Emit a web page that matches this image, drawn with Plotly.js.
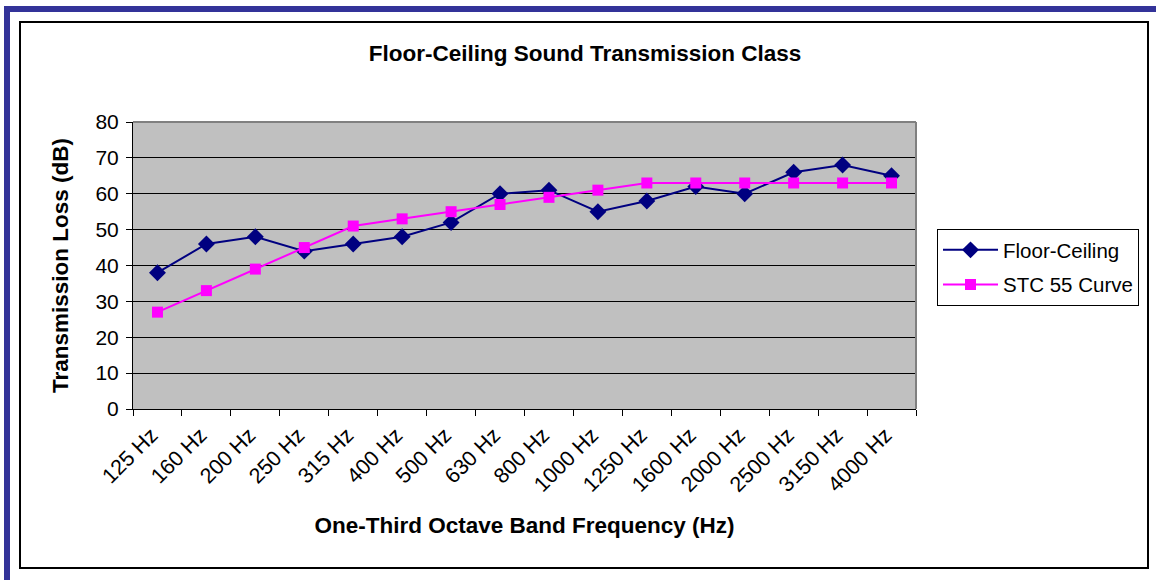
<!DOCTYPE html>
<html>
<head>
<meta charset="utf-8">
<script src="https://cdn.plot.ly/plotly-3.0.1.min.js"></script>
<style>
html,body{margin:0;padding:0;background:#fff;}
#chart{width:1156px;height:580px;}
</style>
</head>
<body>
<div id="chart"></div>
<script>
const categories = ["125 Hz","160 Hz","200 Hz","250 Hz","315 Hz","400 Hz","500 Hz","630 Hz","800 Hz","1000 Hz","1250 Hz","1600 Hz","2000 Hz","2500 Hz","3150 Hz","4000 Hz"];
const floorCeiling = [38,46,48,44,46,48,52,60,61,55,58,62,60,66,68,65];
const stc55 = [27,33,39,45,51,53,55,57,59,61,63,63,63,63,63,63];
const yTicks = [0,10,20,30,40,50,60,70,80];

const L = 133, R = 916, T = 122, B = 409;
const W = 1156, H = 580;
const px = x => (x - L) / (R - L);
const py = y => (B - y) / (B - T);

const traces = [
  {x: categories, y: floorCeiling, name: "Floor-Ceiling", type: "scatter", mode: "lines+markers", legendgroup: "a",
   line: {color: "#000080", width: 2}, marker: {symbol: "diamond", size: 13, color: "#000080"}},
  {x: categories, y: stc55, name: "STC 55 Curve", type: "scatter", mode: "lines+markers", legendgroup: "b",
   line: {color: "#FF00FF", width: 2}, marker: {symbol: "square", size: 11, color: "#FF00FF"}}
];

const fontFam = "Liberation Sans, Arial, sans-serif";
const layout = {
  width: W, height: H,
  margin: {l: L, r: W - R, t: T, b: H - B, pad: 0},
  paper_bgcolor: "#ffffff",
  plot_bgcolor: "#C0C0C0",
  font: {family: fontFam, color: "#000", size: 20},
  showlegend: true,
  title: {text: "<b>Floor-Ceiling Sound Transmission Class</b>", font: {family: fontFam, size: 22.5, color: "#000"},
          x: px(585), xref: "paper", xanchor: "center", y: 1 - 53/H, yanchor: "middle"},
  xaxis: {type: "category", range: [-0.5, 15.5], tickson: "boundaries", ticks: "outside", ticklen: 6, tickcolor: "#000",
          showline: true, linecolor: "#000", linewidth: 1, showgrid: false, tickangle: -45,
          ticklabelshift: -6, ticklabelstandoff: 4,
          tickfont: {family: fontFam, size: 21.5}, automargin: false,
          title: {text: "<b>One-Third Octave Band Frequency (Hz)</b>", font: {family: fontFam, size: 22.5}, standoff: 21}},
  yaxis: {range: [0, 80], tickvals: yTicks, ticks: "outside", ticklen: 6, tickcolor: "#000",
          showline: true, linecolor: "#000", linewidth: 1, showgrid: true, gridcolor: "#000", gridwidth: 1,
          zeroline: false, tickfont: {family: fontFam, size: 21}, automargin: false, ticklabelstandoff: 3,
          title: {text: "<b>Transmission Loss (dB)</b>", font: {family: fontFam, size: 22.5}, standoff: 20}},
  legend: {x: px(937), y: py(229), xanchor: "left", yanchor: "top", bgcolor: "#fff",
           bordercolor: "#000", borderwidth: 1, font: {family: fontFam, size: 20.5}, tracegroupgap: 5,
           itemwidth: 55},
  shapes: [
    {type: "rect", xref: "paper", yref: "paper", x0: px(4), x1: px(1156), y0: py(6), y1: py(12),
     fillcolor: "#333399", line: {width: 0}, layer: "below"},
    {type: "rect", xref: "paper", yref: "paper", x0: px(4), x1: px(10), y0: py(6), y1: py(580),
     fillcolor: "#333399", line: {width: 0}, layer: "below"},
    {type: "rect", xref: "paper", yref: "paper", x0: px(20), x1: px(1148), y0: py(22), y1: py(568),
     line: {color: "#000", width: 2}, fillcolor: "rgba(0,0,0,0)", layer: "below"},
    {type: "line", xref: "paper", yref: "paper", x0: 0, x1: 1, y0: 1, y1: 1, line: {color: "#808080", width: 2}},
    {type: "line", xref: "paper", yref: "paper", x0: 1, x1: 1, y0: 0, y1: 1, line: {color: "#808080", width: 2}}
  ]
};

Plotly.newPlot("chart", traces, layout, {displayModeBar: false, staticPlot: true});
</script>
</body>
</html>
